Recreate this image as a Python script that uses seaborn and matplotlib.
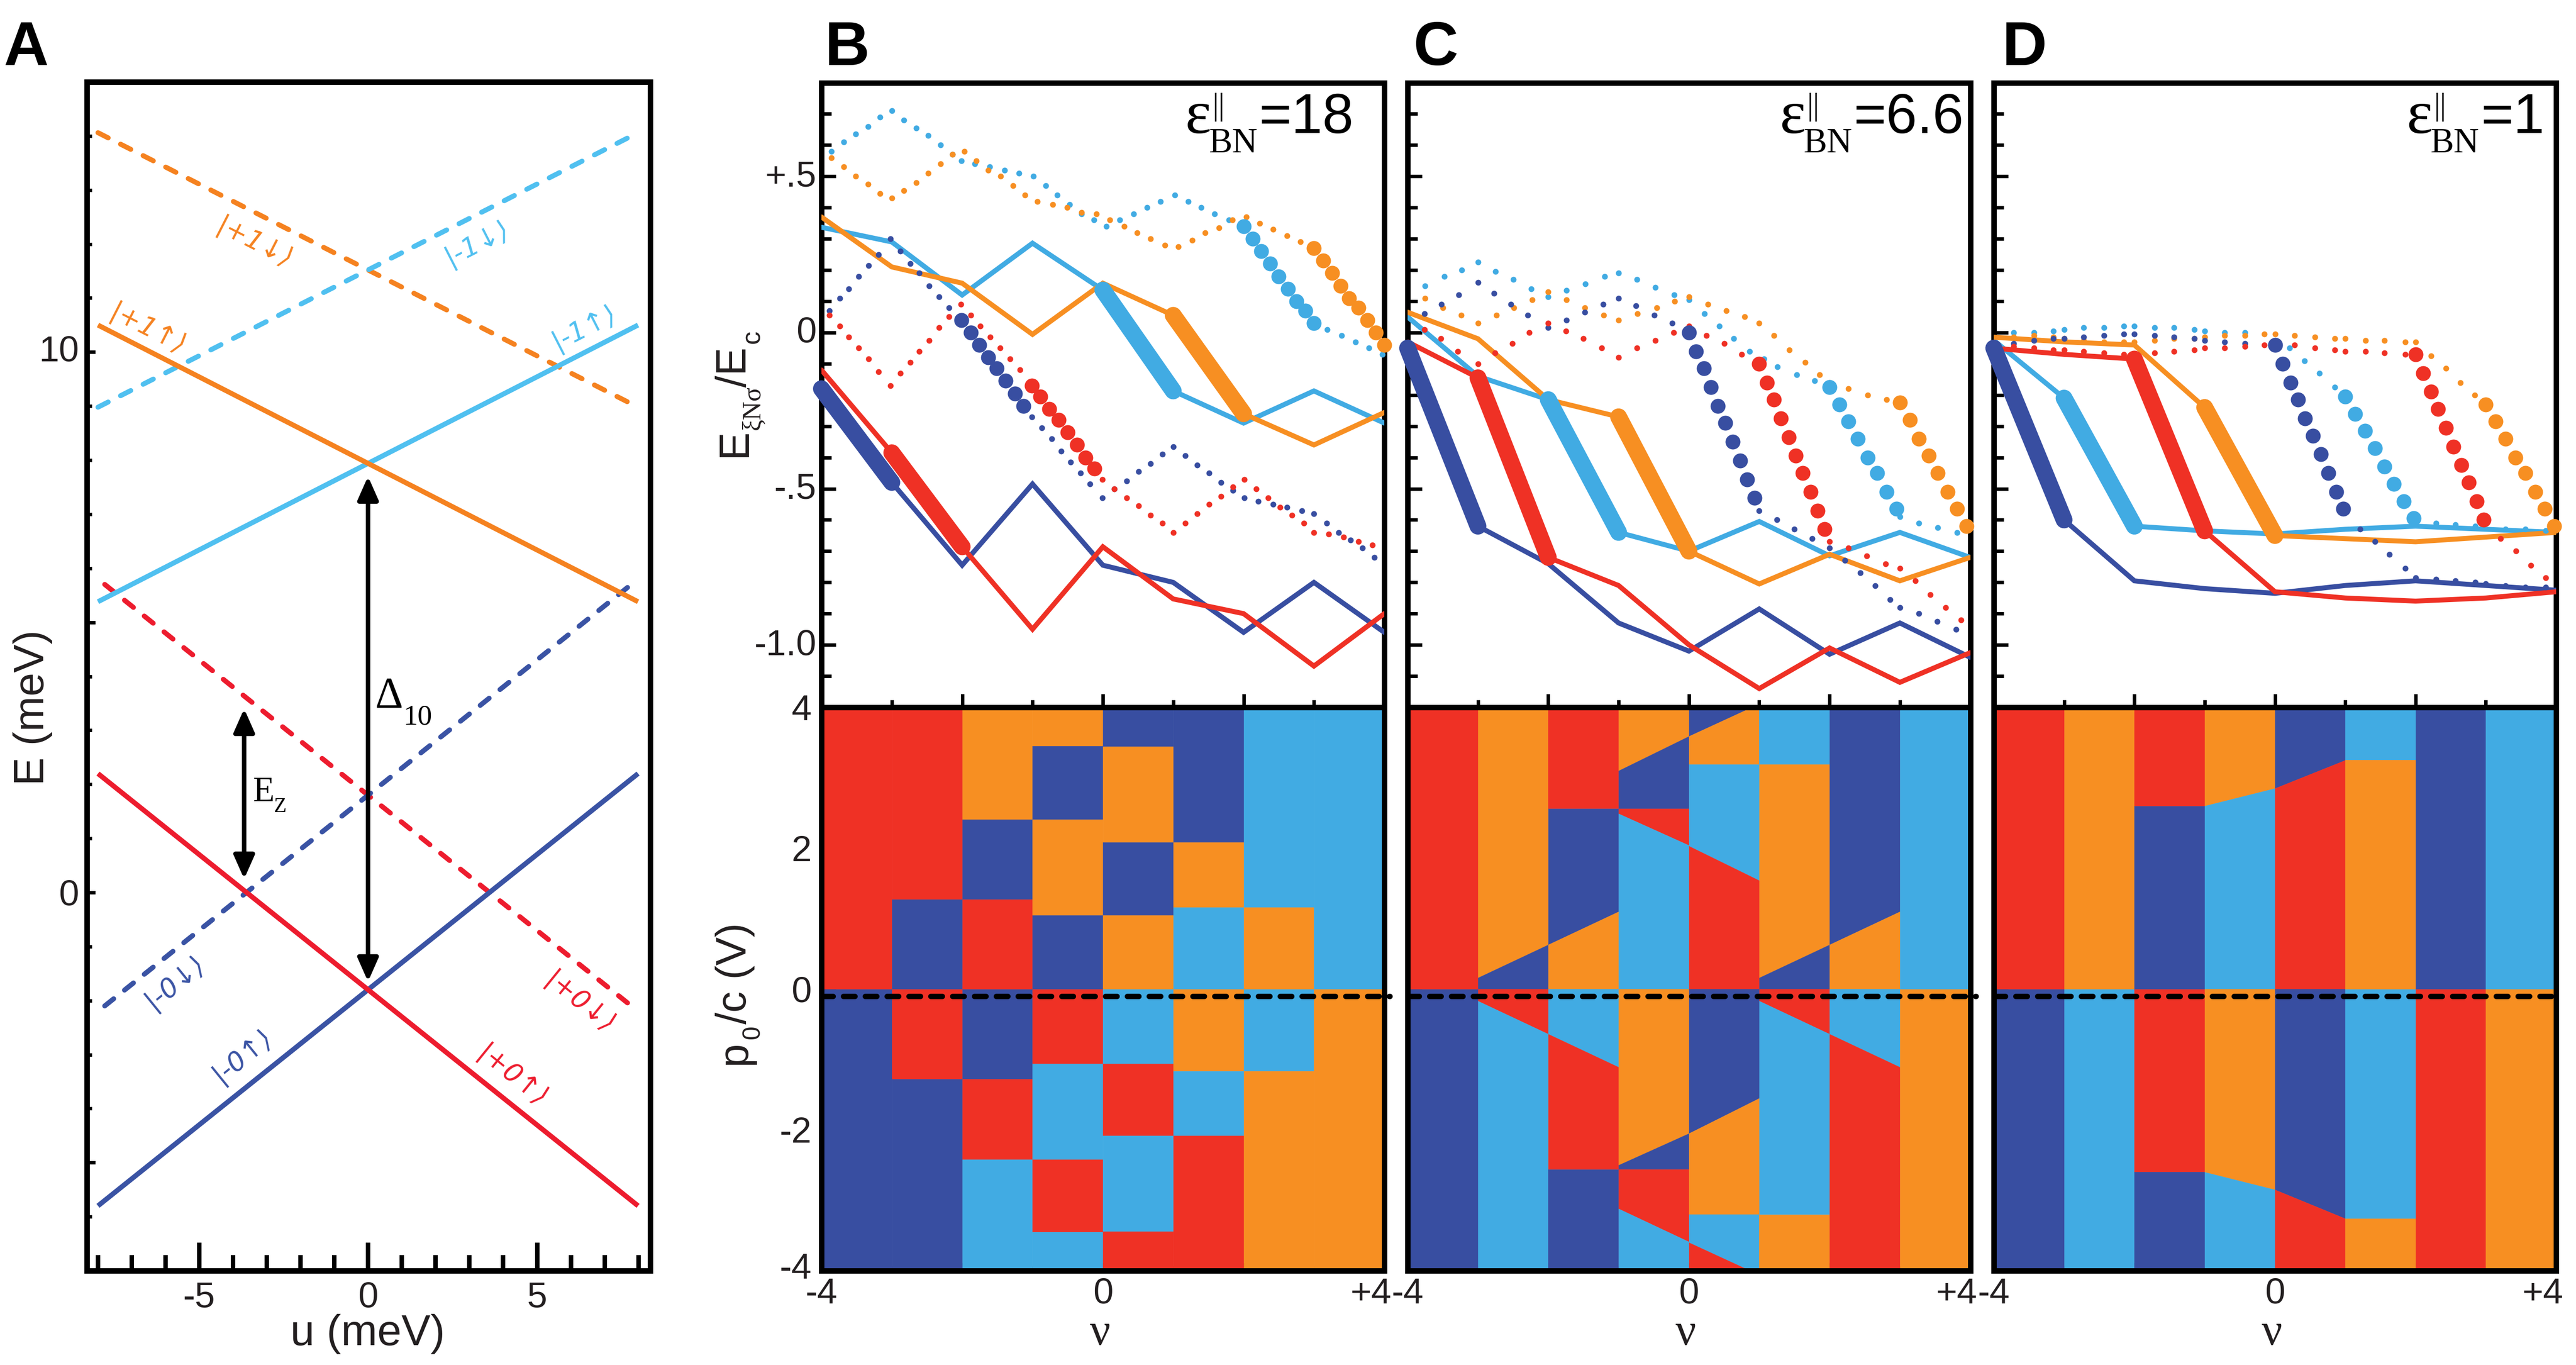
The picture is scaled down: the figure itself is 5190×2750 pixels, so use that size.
import numpy as np
import matplotlib
matplotlib.use("Agg")
import matplotlib.pyplot as plt
from matplotlib.transforms import ScaledTranslation
import seaborn as sns

W, H = 5190, 2750
DPI = 300
sns.set_theme(style="white")
plt.rcParams['font.family'] = ['Liberation Sans', 'DejaVu Sans']
SERIF = ['Liberation Serif', 'DejaVu Serif']
INK = '#231f20'

# ---------- colours ----------
RED, ORANGE, BLUE, CYAN = '#EF3125', '#F78F22', '#384EA1', '#41ABE3'
A_RED, A_ORANGE, A_BLUE, A_CYAN = '#ED1C2E', '#F58220', '#3A53A4', '#50C0F0'
KEY = {'r': RED, 'o': ORANGE, 'b': BLUE, 'c': CYAN}

# ---------- panel A ----------
U_FULL = [-8, 8]
U_SHORT = [-7.8, 8]
E_BLUE_SOLID = [-5.8, 2.2]
E_RED_SOLID = [2.2, -5.8]
E_BLUE_DASH = [-2.1, 5.8]
E_RED_DASH = [5.7, -2.2]
E_CYAN_SOLID = [5.38, 10.5]
E_ORANGE_SOLID = [10.5, 5.38]
E_CYAN_DASH = [8.98, 14.06]
E_ORANGE_DASH = [14.06, 8.98]
DELTA_ARROW = (0, 7.7, -1.65)
EZ_ARROW = (-3.67, 3.4, 0.25)

# ---------- panels B, C, D: solid levels at integer filling ----------
NU_INT = [-4, -3, -2, -1, 0, 1, 2, 3, 4]
B_CYAN = [.337, .29, .12, .286, .136, -.187, -.29, -.187, -.29]
B_ORANGE = [.37, .21, .158, -.006, .158, .055, -.26, -.36, -.256]
B_BLUE = [-.18, -.48, -.745, -.485, -.745, -.80, -.96, -.80, -.96]
B_RED = [-.12, -.385, -.686, -.95, -.686, -.853, -.90, -1.068, -.90]
C_CYAN = [.05, -.14, -.215, -.64, -.70, -.605, -.715, -.64, -.72]
C_ORANGE = [.065, -.02, -.215, -.27, -.70, -.805, -.71, -.795, -.72]
C_BLUE = [-.05, -.62, -.74, -.93, -1.02, -.885, -1.03, -.93, -1.04]
C_RED = [-.03, -.145, -.72, -.81, -1.00, -1.14, -1.01, -1.12, -1.025]
D_CYAN = [-.025, -.21, -.62, -.635, -.645, -.63, -.62, -.63, -.64]
D_ORANGE = [-.015, -.03, -.04, -.24, -.65, -.66, -.67, -.655, -.64]
D_BLUE = [-.05, -.60, -.795, -.82, -.835, -.81, -.795, -.81, -.825]
D_RED = [-.05, -.07, -.085, -.635, -.83, -.85, -.86, -.85, -.83]

# first filling of the thick segment of each level
B_THICK = {'b': -4, 'r': -3, 'c': 0, 'o': 1}
C_THICK = {'b': -4, 'r': -3, 'c': -2, 'o': -1}
D_THICK = {'b': -4, 'c': -3, 'r': -2, 'o': -1}

# ---------- dotted levels ----------
B_CYAN_NU = [-3.86,-3.68,-3.51,-3.34,-3.17,-3.00,-2.83,-2.65,-2.48,-2.31,-2.14,-2.01,-1.82,-1.61,-1.40,-1.19,-0.99,-0.81,-0.65,-0.47,-0.30,-0.13,0.05,0.24,0.44,0.63,0.82,1.02,1.21,1.40,1.59,1.79,2.00,2.13,2.25,2.38,2.50,2.63,2.75,2.88,3.00,3.19,3.39,3.59,3.78,3.97]
B_CYAN_E = [.58,.61,.635,.66,.69,.71,.68,.655,.63,.60,.57,.55,.54,.53,.52,.51,.50,.47,.44,.41,.38,.36,.34,.36,.38,.40,.42,.44,.42,.40,.38,.36,.34,.30,.26,.22,.18,.14,.10,.07,.03,.01,-.01,-.03,-.05,-.07]
B_ORANGE_NU = [-3.86,-3.68,-3.51,-3.34,-3.17,-3.00,-2.83,-2.65,-2.48,-2.31,-2.14,-1.97,-1.80,-1.63,-1.45,-1.28,-1.11,-0.93,-0.71,-0.51,-0.30,-0.09,0.10,0.30,0.49,0.68,0.88,1.07,1.27,1.45,1.65,1.84,2.04,2.23,2.42,2.62,2.81,3.00,3.13,3.26,3.38,3.50,3.63,3.76,3.88,4.00]
B_ORANGE_E = [.56,.53,.50,.475,.445,.43,.455,.48,.51,.54,.57,.58,.55,.52,.50,.47,.44,.42,.41,.40,.385,.38,.36,.34,.32,.30,.28,.275,.295,.32,.335,.36,.37,.35,.33,.31,.29,.27,.23,.19,.15,.11,.08,.04,0,-.04]
B_BLUE_NU = [-3.89,-3.74,-3.61,-3.47,-3.33,-3.19,-3.02,-2.88,-2.74,-2.61,-2.47,-2.33,-2.19,-2.01,-1.88,-1.76,-1.63,-1.51,-1.38,-1.25,-1.13,-1.01,-.87,-.73,-.59,-.46,-.32,-.18,-.01,.16,.34,.51,.68,.85,1.00,1.17,1.34,1.51,1.68,1.85,2.01,2.21,2.42,2.62,2.83,3.00,3.18,3.35,3.52,3.69,3.86]
B_BLUE_E = [.07,.11,.14,.18,.215,.25,.30,.26,.22,.19,.15,.115,.08,.04,0,-.04,-.08,-.115,-.155,-.195,-.235,-.27,-.305,-.34,-.38,-.415,-.45,-.485,-.53,-.50,-.475,-.445,-.42,-.39,-.365,-.395,-.425,-.45,-.48,-.505,-.53,-.54,-.55,-.56,-.57,-.58,-.61,-.64,-.665,-.69,-.72]
B_RED_NU = [-3.89,-3.74,-3.61,-3.47,-3.33,-3.19,-3.02,-2.88,-2.74,-2.61,-2.47,-2.33,-2.19,-2.02,-1.88,-1.74,-1.60,-1.46,-1.32,-1.18,-1.01,-.89,-.76,-.63,-.50,-.37,-.25,-.12,-.01,.16,.34,.51,.68,.85,1.00,1.17,1.34,1.51,1.68,1.85,2.01,2.18,2.35,2.52,2.69,2.86,3.00,3.21,3.42,3.63,3.83]
B_RED_E = [.055,.02,-.015,-.05,-.085,-.125,-.17,-.13,-.095,-.06,-.025,.015,.05,.09,.055,.02,-.015,-.05,-.085,-.12,-.17,-.205,-.245,-.28,-.32,-.36,-.40,-.435,-.47,-.50,-.53,-.555,-.585,-.61,-.64,-.61,-.58,-.55,-.525,-.495,-.47,-.50,-.53,-.56,-.585,-.61,-.64,-.645,-.655,-.67,-.68]

C_CYAN_NU = [-3.75,-3.48,-3.23,-3.00,-2.75,-2.50,-2.24,-2.00,-1.74,-1.47,-1.20,-1.00,-.74,-.48,-.21,0,.22,.43,.64,.86,1.07,1.26,1.53,1.79,2.00,2.14,2.27,2.40,2.54,2.68,2.81,2.95,3.00,3.27,3.54,3.81]
C_CYAN_E = [.15,.18,.20,.225,.195,.17,.14,.115,.135,.155,.18,.19,.17,.145,.12,.105,.06,.02,-.02,-.06,-.085,-.11,-.135,-.155,-.175,-.23,-.285,-.34,-.40,-.45,-.51,-.565,-.59,-.61,-.625,-.64]
C_ORANGE_NU = [-3.75,-3.50,-3.24,-3.00,-2.74,-2.49,-2.23,-2.00,-1.74,-1.48,-1.21,-1.00,-.73,-.46,-.20,0,.27,.53,.79,1.00,1.21,1.43,1.65,1.86,2.00,2.27,2.54,2.81,3.00,3.14,3.27,3.41,3.54,3.68,3.81,3.95]
C_ORANGE_E = [.11,.08,.055,.03,.055,.08,.105,.13,.105,.08,.055,.04,.06,.08,.10,.115,.09,.07,.05,.03,-.01,-.055,-.095,-.135,-.16,-.18,-.20,-.215,-.225,-.28,-.34,-.395,-.45,-.51,-.565,-.62]
C_BLUE_NU = [-3.76,-3.52,-3.27,-3.00,-2.77,-2.53,-2.29,-2.00,-1.74,-1.48,-1.22,-1.00,-.75,-.49,-.24,0,.10,.21,.31,.41,.52,.62,.73,.83,.93,1.00,1.25,1.50,1.75,2.00,2.22,2.44,2.65,2.86,3.00,3.27,3.53,3.80]
C_BLUE_E = [.06,.09,.12,.16,.125,.09,.055,.015,.04,.065,.09,.11,.085,.055,.03,0,-.06,-.115,-.175,-.235,-.29,-.35,-.41,-.47,-.53,-.57,-.60,-.63,-.66,-.69,-.73,-.77,-.81,-.855,-.88,-.90,-.925,-.95]
C_RED_NU = [-3.76,-3.53,-3.29,-3.00,-2.76,-2.51,-2.27,-2.00,-1.75,-1.50,-1.24,-1.00,-.74,-.48,-.22,0,.25,.50,.75,1.00,1.11,1.21,1.31,1.42,1.52,1.62,1.73,1.83,1.93,2.00,2.27,2.53,2.80,3.00,3.22,3.43,3.65,3.87]
C_RED_E = [.01,-.02,-.06,-.10,-.065,-.035,0,.03,.005,-.02,-.05,-.08,-.05,-.025,0,.02,-.01,-.035,-.07,-.10,-.16,-.215,-.275,-.335,-.395,-.45,-.51,-.57,-.63,-.67,-.69,-.715,-.74,-.755,-.795,-.84,-.88,-.92]

D_CYAN_NU = [-3.72,-3.43,-3.15,-3,-2.72,-2.43,-2.15,-2,-1.71,-1.44,-1.15,-1,-.72,-.43,.21,.42,.63,.85,1.00,1.14,1.28,1.42,1.56,1.69,1.83,1.97,2.29,2.57,2.85,3.28,3.56,3.85]
D_CYAN_E = [0,0,.005,.01,.015,.015,.02,.02,.015,.015,.01,.005,0,0,-.05,-.09,-.13,-.175,-.205,-.26,-.315,-.37,-.43,-.485,-.54,-.595,-.61,-.615,-.62,-.63,-.63,-.635]
D_ORANGE_NU = [-3.72,-3.43,-3.15,-3,-2.72,-2.43,-2.15,-2,-1.71,-1.44,-1.15,-1,-.72,-.43,-.15,0,.28,.57,.85,1.0,1.29,1.56,1.85,2.0,2.22,2.43,2.64,2.84,3.0,3.14,3.28,3.42,3.56,3.70,3.84,3.97]
D_ORANGE_E = [-.015,-.01,-.015,-.02,-.025,-.03,-.03,-.03,-.025,-.02,-.02,-.015,-.01,-.01,-.005,-.005,-.01,-.015,-.02,-.02,-.025,-.025,-.03,-.03,-.075,-.115,-.16,-.20,-.23,-.285,-.34,-.40,-.45,-.51,-.565,-.62]
D_BLUE_NU = [-3.72,-3.43,-3.15,-3,-2.72,-2.43,-2.15,-2,-1.71,-1.44,-1.15,-1,-.72,-.43,0,.11,.22,.33,.43,.54,.65,.76,.87,.97,1.21,1.42,1.63,1.85,2.0,2.29,2.57,2.85,3.0,3.28,3.56,3.85]
D_BLUE_E = [-.035,-.025,-.02,-.02,-.015,-.01,-.005,-.005,-.01,-.015,-.02,-.025,-.03,-.035,-.04,-.10,-.16,-.215,-.275,-.33,-.39,-.45,-.51,-.565,-.63,-.67,-.71,-.755,-.785,-.79,-.795,-.80,-.805,-.81,-.815,-.815]
D_RED_NU = [-3.72,-3.43,-3.15,-3,-2.72,-2.43,-2.15,-1.71,-1.44,-1.15,-1,-.72,-.43,-.15,0,.28,.57,.85,1.0,1.29,1.56,1.85,2.0,2.11,2.22,2.32,2.43,2.54,2.65,2.76,2.87,2.97,3.21,3.43,3.64,3.85]
D_RED_E = [-.045,-.05,-.055,-.055,-.06,-.065,-.07,-.065,-.06,-.055,-.05,-.05,-.045,-.04,-.035,-.04,-.05,-.055,-.06,-.06,-.065,-.07,-.07,-.13,-.19,-.245,-.305,-.365,-.425,-.48,-.54,-.60,-.66,-.70,-.745,-.785]

# filling range of the large dots of each dotted level
B_BIG = {'c': (2.0, 3.0), 'o': (3.0, 4.0), 'b': (-2.02, -1.1), 'r': (-1.02, -.1)}
C_BIG = {'c': (2.0, 2.96), 'o': (3.0, 3.96), 'b': (0, .95), 'r': (1.0, 1.95)}
D_BIG = {'c': (1.0, 1.98), 'o': (3.0, 3.98), 'b': (0, .98), 'r': (2.0, 2.98)}

# ---------- phase maps: colours top to bottom, p0/c edges at left and right of each filling ----------
B_COLS = ["rb", "rbrb", "obrbrc", "obobrcrc", "bobocrcr", "bococr", "coco", "co"]
B_LEFT = [[0], [1.27,0,-1.28], [2.41,1.27,0,-1.28,-2.42], [3.45,2.41,1.05,0,-1.06,-2.42,-3.45],
          [3.44,2.08,1.05,0,-1.06,-2.08,-3.44], [2.08,1.16,0,-1.17,-2.08], [1.16,0,-1.17], [0]]
B_RIGHT = B_LEFT
C_COLS = ["rb", "obrc", "rbocrb", "obrcobrc", "bocrbocr", "cobrco", "bocr", "co"]
C_LEFT = [[0], [.16,0,-.17], [2.56,.63,0,-.64,-2.56], [3.10,2.56,2.49,0,-2.50,-2.56,-3.12],
          [3.59,3.19,2.03,0,-2.05,-3.2,-3.60], [3.19,.16,0,-.17,-3.2], [.63,0,-.64], [0]]
C_RIGHT = [[0], [.63,0,-.64], [2.56,1.10,0,-1.11,-2.56], [3.59,2.56,2.04,0,-2.05,-2.56,-3.59],
           [4.05,3.19,1.54,0,-1.55,-3.2,-4.06], [3.19,.63,0,-.64,-3.2], [1.10,0,-1.11], [0]]
D_COLS = ["rb", "oc", "rbrb", "ococ", "brbr", "coco", "br", "co"]
D_LEFT = [[0], [0], [2.6,0,-2.6], [2.6,0,-2.6], [2.85,0,-2.85], [3.25,0,-3.26], [0], [0]]
D_RIGHT = [[0], [0], [2.6,0,-2.6], [2.85,0,-2.85], [3.25,0,-3.26], [3.25,0,-3.26], [0], [0]]
CUT_P = -0.1

E_TICKS = [.5, 0, -.5, -1.0]
E_TICK_LABELS = ['+.5', '0', '-.5', '-1.0']
P_TICKS = [4, 2, 0, -2, -4]
NU_LABEL_TICKS = [-4, -2, 0, 2, 4]
NU_TICK_LABELS = ['-4', '', '0', '', '+4']


def pt(px):
    return px * 72.0 / DPI


fig = plt.figure(figsize=(W / DPI, H / DPI), dpi=DPI, facecolor='white')


def T(x, y, s, **kw):
    kw.setdefault('va', 'baseline')
    kw.setdefault('ha', 'left')
    kw.setdefault('color', INK)
    return fig.text(x / W, 1 - y / H, s, **kw)


def make_axes(x0, x1, y0, y1):
    ax = fig.add_axes([x0 / W, 1 - y1 / H, (x1 - x0) / W, (y1 - y0) / H])
    ax.set_facecolor('white')
    for s in ax.spines.values():
        s.set_linewidth(pt(11))
        s.set_color('black')
        s.set_visible(True)
    return ax


def ticks(ax, which, axis, length, width=7, **kw):
    side = dict(bottom=True, top=False) if axis == 'x' else dict(left=True, right=False)
    ax.tick_params(axis=axis, which=which, direction='in', length=pt(length), width=pt(width),
                   color='black', labelcolor=INK, **side, **kw)


def nudge(label, dx=0, dy=0):
    label.set_transform(label.get_transform() + ScaledTranslation(dx / DPI, dy / DPI, fig.dpi_scale_trans))


# ---------- panel A ----------
axA = make_axes(175, 1310, 165, 2560)
DASH = (0, (2.3, 2.8))
for xs, ys, col, ls in [
    (U_SHORT, E_RED_DASH, A_RED, DASH), (U_SHORT, E_BLUE_DASH, A_BLUE, DASH),
    (U_FULL, E_ORANGE_DASH, A_ORANGE, DASH), (U_FULL, E_CYAN_DASH, A_CYAN, DASH),
    (U_FULL, E_CYAN_SOLID, A_CYAN, '-'), (U_FULL, E_ORANGE_SOLID, A_ORANGE, '-'),
    (U_FULL, E_BLUE_SOLID, A_BLUE, '-'), (U_FULL, E_RED_SOLID, A_RED, '-'),
]:
    sns.lineplot(x=xs, y=ys, color=col, linewidth=pt(10), linestyle=ls, ax=axA, legend=False,
                 estimator=None, errorbar=None, sort=False, dash_capstyle='round', solid_capstyle='butt')
for (xa, top, bot) in [DELTA_ARROW, EZ_ARROW]:
    axA.annotate('', xy=(xa, bot), xytext=(xa, top),
                 arrowprops=dict(arrowstyle='<|-|>,head_length=0.95,head_width=0.42', mutation_scale=10,
                                 lw=pt(9), color='black', shrinkA=0, shrinkB=0), zorder=6)
axA.set_xlim(-8.33, 8.36)
axA.set_ylim(-7, 15)
axA.set_xticks([-5, 0, 5])
axA.set_xticklabels(['-5', '0', '5'], fontsize=17.5)
axA.set_xticks(np.arange(-8, 9), minor=True)
axA.set_yticks([-5, 0, 5, 10])
axA.set_yticklabels(['', '0', '', '10'], fontsize=17.5)
axA.set_yticks(np.arange(-6, 15), minor=True)
ticks(axA, 'major', 'x', 57, 9, pad=pt(22))
ticks(axA, 'minor', 'x', 32, 9)
ticks(axA, 'major', 'y', 17, 7, pad=pt(16))
ticks(axA, 'minor', 'y', 10, 7)
nudge(axA.get_yticklabels()[-1], dy=8)
T(741, 2710, 'u (meV)', ha='center', fontsize=21)
T(88, 1582, 'E (meV)', rotation=90, rotation_mode='anchor', fontsize=20.5)
T(756, 1425, 'Δ', family=SERIF, fontsize=21, color='black')
T(813, 1459, '10', family=SERIF, fontsize=14, color='black')
T(510, 1614, 'E', family=SERIF, fontsize=17, color='black')
T(552, 1636, 'Z', family=SERIF, fontsize=10, color='black')
for x, y, s, col, rot in [
    (512, 491, '|+1↓⟩', A_ORANGE, -27), (961, 491, '|-1↓⟩', A_CYAN, 27),
    (297, 665, '|+1↑⟩', A_ORANGE, -27), (1177, 661, '|-1↑⟩', A_CYAN, 27),
    (352, 1980, '|-0↓⟩', A_BLUE, 39), (488, 2128, '|-0↑⟩', A_BLUE, 39),
    (1167, 2021, '|+0↓⟩', A_RED, -39), (1031, 2169, '|+0↑⟩', A_RED, -39),
]:
    T(x, y, s, color=col, rotation=rot, rotation_mode='anchor', ha='center', va='center',
      family='DejaVu Sans', style='oblique', fontsize=13)

# ---------- panels B, C, D ----------
PANELS = [
    dict(x0=1655, x1=2789,
         solid=dict(c=B_CYAN, o=B_ORANGE, b=B_BLUE, r=B_RED), thick=B_THICK, big=B_BIG,
         dots=dict(c=(B_CYAN_NU, B_CYAN_E), o=(B_ORANGE_NU, B_ORANGE_E), b=(B_BLUE_NU, B_BLUE_E), r=(B_RED_NU, B_RED_E)),
         cols=B_COLS, left=B_LEFT, right=B_RIGHT, val='=18', eps=2387),
    dict(x0=2836, x1=3969.5,
         solid=dict(c=C_CYAN, o=C_ORANGE, b=C_BLUE, r=C_RED), thick=C_THICK, big=C_BIG,
         dots=dict(c=(C_CYAN_NU, C_CYAN_E), o=(C_ORANGE_NU, C_ORANGE_E), b=(C_BLUE_NU, C_BLUE_E), r=(C_RED_NU, C_RED_E)),
         cols=C_COLS, left=C_LEFT, right=C_RIGHT, val='=6.6', eps=3585),
    dict(x0=4017, x1=5150,
         solid=dict(c=D_CYAN, o=D_ORANGE, b=D_BLUE, r=D_RED), thick=D_THICK, big=D_BIG,
         dots=dict(c=(D_CYAN_NU, D_CYAN_E), o=(D_ORANGE_NU, D_ORANGE_E), b=(D_BLUE_NU, D_BLUE_E), r=(D_RED_NU, D_RED_E)),
         cols=D_COLS, left=D_LEFT, right=D_RIGHT, val='=1', eps=4848),
]
SMALL_S, BIG_S = 8, 52

for i, P in enumerate(PANELS):
    top = make_axes(P['x0'], P['x1'], 166.5, 1425)
    low = make_axes(P['x0'], P['x1'], 1425, 2560)

    for k in 'cobr':
        sns.lineplot(x=NU_INT, y=P['solid'][k], color=KEY[k], linewidth=pt(10), ax=top, legend=False,
                     estimator=None, errorbar=None, sort=False, zorder=3, solid_joinstyle='miter')
    for k in 'cobr':
        nu, e = np.array(P['dots'][k][0]), np.array(P['dots'][k][1])
        lo, hi = P['big'][k]
        mask = (nu >= lo) & (nu <= hi)
        sns.scatterplot(x=nu[~mask], y=e[~mask], color=KEY[k], s=SMALL_S, linewidth=0, ax=top,
                        legend=False, zorder=4, clip_on=False)
        sns.scatterplot(x=nu[mask], y=e[mask], color=KEY[k], s=BIG_S, linewidth=0, ax=top,
                        legend=False, zorder=5, clip_on=False)
    for k in 'cobr':
        a = P['thick'][k]
        j = NU_INT.index(a)
        sns.lineplot(x=NU_INT[j:j + 2], y=P['solid'][k][j:j + 2], color=KEY[k], linewidth=pt(34), ax=top,
                     legend=False, estimator=None, errorbar=None, sort=False, zorder=6,
                     solid_capstyle='round', clip_on=False)
    top.set_xlim(-4, 4)
    top.set_ylim(-1.2, .8)
    top.set_xticks(NU_LABEL_TICKS)
    top.set_xticklabels([])
    top.set_xticks([-3, -1, 1, 3], minor=True)
    top.set_yticks(E_TICKS)
    top.set_yticks(np.arange(-1.1, .75, .1), minor=True)
    top.set_yticklabels(E_TICK_LABELS if i == 0 else [], fontsize=17.5)
    ticks(top, 'major', 'x', 27)
    ticks(top, 'minor', 'x', 15)
    ticks(top, 'major', 'y', 29, pad=pt(10))
    ticks(top, 'minor', 'y', 20)
    if i == 0:
        for lab in top.get_yticklabels():
            nudge(lab, dy=6)

    for c, (cols, le, re) in enumerate(zip(P['cols'], P['left'], P['right'])):
        a = NU_INT[c]
        b = NU_INT[c + 1]
        el = [4.2] + list(le) + [-4.2]
        er = [4.2] + list(re) + [-4.2]
        for n, k in enumerate(cols):
            low.fill_between([a, b], [el[n], er[n]], [el[n + 1], er[n + 1]], color=KEY[k],
                             linewidth=0.15, edgecolor=KEY[k], zorder=1)
    sns.lineplot(x=[-4, 4.08], y=[CUT_P, CUT_P], color='black', linewidth=pt(11), ax=low, legend=False,
                 estimator=None, errorbar=None, sort=False, zorder=6, clip_on=False,
                 linestyle=(0, (2.1, 1.9)), dash_capstyle='round')
    low.set_xlim(-4, 4)
    low.set_ylim(-4, 4)
    low.set_xticks(NU_LABEL_TICKS)
    low.set_xticklabels(NU_TICK_LABELS, fontsize=17.5)
    low.set_xticks(np.arange(-3.5, 4, .5), minor=True)
    low.set_yticks(P_TICKS)
    low.set_yticks([-3, -1, 1, 3], minor=True)
    low.set_yticklabels([str(v) for v in P_TICKS] if i == 0 else [], fontsize=17.5)
    ticks(low, 'major', 'x', 16, pad=pt(14))
    ticks(low, 'minor', 'x', 9)
    ticks(low, 'major', 'y', 29, pad=pt(20))
    ticks(low, 'minor', 'y', 20)
    nudge(low.get_xticklabels()[-1], dx=-27)
    if i == 0:
        nudge(low.get_yticklabels()[-1], dy=10)

    cx = (P['x0'] + P['x1']) / 2 - 6
    T(cx, 2709, 'ν', ha='center', family=SERIF, fontsize=22)
    L = P['eps']
    T(L, 268, 'ε', family=SERIF, fontsize=30, color='black')
    T(L + 49, 307, 'BN', family=SERIF, fontsize=17, color='black')
    T(L + 55, 231, '||', family=SERIF, fontsize=15, color='black')
    T(L + 150, 268, P['val'], fontsize=27, color='black')

# ---------- panel letters ----------
for x, s in [(8, 'A'), (1662, 'B'), (2848, 'C'), (4034, 'D')]:
    T(x, 131, s, fontsize=30, weight='bold', color='black')

# ---------- composite y labels ----------
def R(x, y, s, **kw):
    T(x, y, s, rotation=90, rotation_mode='anchor', **kw)

R(1503, 920, 'E', fontsize=20.5)
R(1530, 866, 'ξNσ', family=SERIF, fontsize=12.5)
R(1503, 780, '/E', fontsize=20.5)
R(1530, 692, 'c', fontsize=13)
R(1503, 2145, 'p', fontsize=20.5)
R(1530, 2093, '0', fontsize=12)
R(1503, 2063, '/c (V)', fontsize=20.5)

fig.savefig('out.png', dpi=DPI, facecolor='white')
